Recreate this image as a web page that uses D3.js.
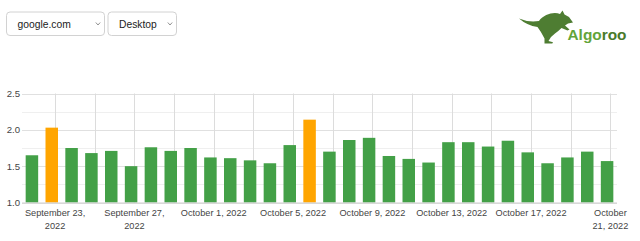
<!DOCTYPE html>
<html>
<head>
<meta charset="utf-8">
<script src="https://cdn.jsdelivr.net/npm/d3@7"></script>
<style>
  body { margin: 0; background: #fff; }
  svg { display: block; font-family: "Liberation Sans", Arial, Helvetica, sans-serif; }
</style>
</head>
<body>
<div id="app"></div>
<script>
// data
var dates = ["2022-09-22","2022-09-23","2022-09-24","2022-09-25","2022-09-26","2022-09-27",
  "2022-09-28","2022-09-29","2022-09-30","2022-10-01","2022-10-02","2022-10-03","2022-10-04",
  "2022-10-05","2022-10-06","2022-10-07","2022-10-08","2022-10-09","2022-10-10","2022-10-11",
  "2022-10-12","2022-10-13","2022-10-14","2022-10-15","2022-10-16","2022-10-17","2022-10-18",
  "2022-10-19","2022-10-20","2022-10-21"];
var values = [1.65,2.03,1.75,1.68,1.71,1.50,1.76,1.71,1.75,1.62,1.61,1.58,1.54,1.79,2.14,
  1.70,1.86,1.89,1.64,1.60,1.55,1.83,1.83,1.77,1.85,1.69,1.54,1.62,1.70,1.57];
var yTicks = [1.0,1.5,2.0,2.5];
var yMinor = [1.25,1.75,2.25];
var tickDates = ["2022-09-23","2022-09-27","2022-10-01","2022-10-05","2022-10-09","2022-10-13","2022-10-17","2022-10-21"];
var tickLabels = [["September 23,","2022"],["September 27,","2022"],["October 1, 2022"],["October 5, 2022"],
  ["October 9, 2022"],["October 13, 2022"],["October 17, 2022"],["October","21, 2022"]];
var sites = ["google.com","Desktop"];

var W = 640, H = 241;
var parse = d3.utcParse("%Y-%m-%d");
var tz = 4 * 3600 * 1000; // gridlines sit at local midnight

var svg = d3.select('#app').append('svg').attr('width', W).attr('height', H);

// dropdowns
var boxes = [{x:6, w:98}, {x:107.5, w:68.5}];
var dd = svg.selectAll('g.dd').data(sites).enter().append('g')
    .attr('class','dd')
    .attr('transform', function(d,i){ return 'translate(' + boxes[i].x + ',11.5)'; });
dd.append('rect')
    .attr('x',0.5).attr('y',0.5)
    .attr('width', function(d,i){ return boxes[i].w; })
    .attr('height',23.5)
    .attr('rx',3.5)
    .attr('fill','#fff')
    .attr('stroke','#d2d2d2');
dd.append('text')
    .attr('x',11.5)
    .attr('y',16)
    .attr('font-size','10.3px')
    .attr('fill','#222')
    .text(function(d){ return d; });
dd.append('path')
    .attr('d', function(d,i){ var cx = boxes[i].w - 6; return 'M' + (cx-2.2) + ',11 L' + cx + ',13.5 L' + (cx+2.2) + ',11'; })
    .attr('fill','none')
    .attr('stroke','#777')
    .attr('stroke-width',0.8);

// logo
var logo = svg.append('g');
logo.append('path')
    .attr('d','M519,18.5 Q528,22.5 539,21 C544,14 554,11.5 560,14 L562.5,10.5 L564.5,14.5 L569,17 L573,22.5 L568,23.5 L565,25.5 L569.5,29.5 L567.5,30.5 L561.5,28 Q558,31.5 555,33.5 L551,37 L548.5,41 L553,42.3 L552.3,43.5 L544.5,43.5 L544.5,38.5 Q541,31.5 537.5,27 Q527,25.5 519,18.5 Z')
    .attr('fill','#4e7d32');
var lt = logo.append('text')
    .attr('x',567.5).attr('y',40)
    .attr('font-size','15.4px')
    .attr('font-weight','bold');
lt.append('tspan').attr('fill','#63a43a').text('Algo');
lt.append('tspan').attr('fill','#4a7a2a').text('roo');

// chart
var mL = 22, mR = 617, mT = 93.5, mB = 202.5;
var x = d3.scaleUtc()
    .domain([new Date(Date.UTC(2022,8,21,12)), new Date(Date.UTC(2022,9,21,12))])
    .range([mL, mR]);
var y = d3.scaleLinear().domain([1.0, 2.5]).range([mB, mT]);
var dayW = x(parse(dates[1])) - x(parse(dates[0]));
var barW = dayW * 0.63;

var grid = svg.append('g').attr('class','grid');
grid.selectAll('line.minor').data(yMinor).enter().append('line')
    .attr('class','minor')
    .attr('x1',mL).attr('x2',mR)
    .attr('y1', function(d){ return Math.round(y(d)) + 0.5; })
    .attr('y2', function(d){ return Math.round(y(d)) + 0.5; })
    .attr('stroke','#efefef');
grid.selectAll('line.major').data(yTicks).enter().append('line')
    .attr('class','major')
    .attr('x1',mL).attr('x2',mR)
    .attr('y1', function(d){ return Math.round(y(d)) + 0.5; })
    .attr('y2', function(d){ return Math.round(y(d)) + 0.5; })
    .attr('stroke','#e0e0e0');
var vDates = d3.utcDay.range(parse(tickDates[0]), new Date(+parse(tickDates[tickDates.length-1]) + 1), 2);
grid.selectAll('line.v').data(vDates).enter().append('line')
    .attr('class','v')
    .attr('x1', function(d){ return Math.round(x(+d + tz)) + 0.5; })
    .attr('x2', function(d){ return Math.round(x(+d + tz)) + 0.5; })
    .attr('y1',mT).attr('y2',mB)
    .attr('stroke','#dcdcdc');

svg.append('g').selectAll('rect')
    .data(values)
  .enter().append('rect')
    .attr('x', function(d,i){ return x(parse(dates[i])) - barW/2; })
    .attr('y', function(d){ return y(d); })
    .attr('width', barW)
    .attr('height', function(d){ return mB - y(d); })
    .attr('fill', function(d){ return d > 2 ? '#ffa500' : '#43a047'; });

svg.append('line')
    .attr('x1',mL).attr('x2',mR)
    .attr('y1',mB + 0.5).attr('y2',mB + 0.5)
    .attr('stroke','#cfcfcf');

// y labels
svg.append('g').selectAll('text')
    .data(yTicks)
  .enter().append('text')
    .attr('x',20).attr('y', function(d){ return y(d); })
    .attr('dy','0.35em')
    .attr('text-anchor','end')
    .attr('font-size','9.6px')
    .attr('fill','#444')
    .text(function(d){ return d3.format('.1f')(d); });

// x labels
var xl = svg.append('g').selectAll('text')
    .data(tickDates)
  .enter().append('text')
    .attr('text-anchor','middle')
    .attr('font-size','9.2px')
    .attr('fill','#444')
    .attr('transform', function(d){ return 'translate(' + x(+parse(d) + tz) + ',216)'; });
xl.selectAll('tspan')
    .data(function(d,i){ return tickLabels[i]; })
  .enter().append('tspan')
    .attr('x',0)
    .attr('y', function(d,i){ return i * 12.5; })
    .text(function(d){ return d; });
</script>
</body>
</html>
